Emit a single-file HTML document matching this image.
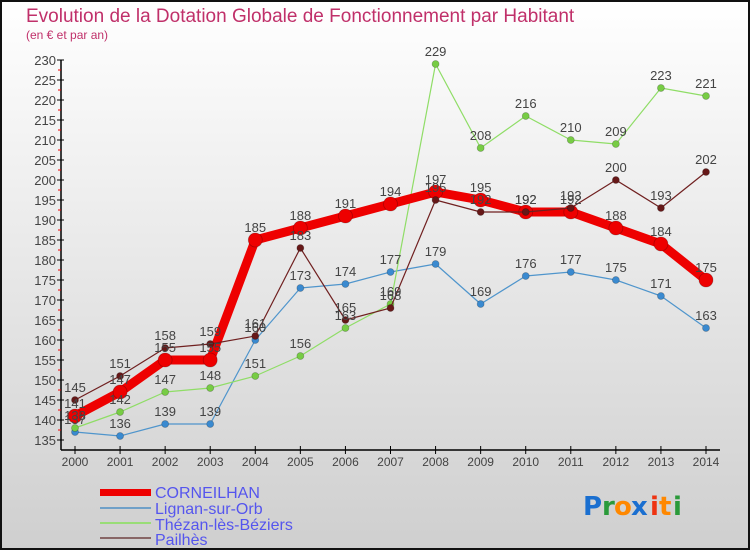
<!DOCTYPE html>
<html><head><meta charset="utf-8"><style>
body{margin:0;width:750px;height:550px;overflow:hidden;font-family:"Liberation Sans",sans-serif}
svg{display:block}
</style></head><body>
<svg id="chart" width="750" height="550" xmlns="http://www.w3.org/2000/svg">
<defs><linearGradient id="bg" x1="0" y1="0" x2="0" y2="1"><stop offset="0" stop-color="#ffffff"/><stop offset="1" stop-color="#cfcfcf"/></linearGradient></defs>
<rect x="1" y="1" width="748" height="548" fill="url(#bg)" stroke="#111" stroke-width="2"/>
<text x="26" y="22" font-size="19" fill="#c0306a">Evolution de la Dotation Globale de Fonctionnement par Habitant</text>
<text x="26" y="39" font-size="12" fill="#c0306a">(en € et par an)</text>
<g id="axes"></g><g id="series"></g><g id="labels"></g>
<g>
<rect x="100" y="489" width="51" height="7" fill="#ee0000"/>
<text x="155" y="498" font-size="16" fill="#5555ee">CORNEILHAN</text>
<rect x="100" y="507" width="51" height="2" fill="#6fa0c8"/>
<text x="155" y="514" font-size="16" fill="#5555ee">Lignan-sur-Orb</text>
<rect x="100" y="522" width="51" height="2" fill="#99dd77"/>
<text x="155" y="530" font-size="16" fill="#5555ee">Thézan-lès-Béziers</text>
<rect x="100" y="537" width="51" height="2" fill="#886666"/>
<text x="155" y="545" font-size="16" fill="#5555ee">Pailhès</text>
</g>
<g font-size="26" font-family="'DejaVu Sans',sans-serif" font-weight="bold">
<text x="583" y="515" fill="#1a6fd0">P</text><text x="602" y="515" fill="#2a9a3a">r</text><text x="614" y="515" fill="#ff8800">o</text><text x="631" y="515" fill="#1a6fd0">x</text><text x="650" y="515" fill="#ee3311">i</text><text x="659" y="515" fill="#ff8800">t</text><text x="673" y="515" fill="#2a9a3a">i</text>
</g>
</svg>
<script>
const years=[2000,2001,2002,2003,2004,2005,2006,2007,2008,2009,2010,2011,2012,2013,2014];
const corneilhan=[141,147,155,155,185,188,191,194,197,195,192,192,188,184,175];
const lignan=[137,136,139,139,160,173,174,177,179,169,176,177,175,171,163];
const thezan=[138,142,147,148,151,156,163,169,229,208,216,210,209,223,221];
const pailhes=[145,151,158,159,161,183,165,168,195,192,192,193,200,193,202];
const yTicks=[135,140,145,150,155,160,165,170,175,180,185,190,195,200,205,210,215,220,225,230];
const NS="http://www.w3.org/2000/svg";
const xS=i=>75+i*(706-75)/(years.length-1);
const yS=v=>60+(230-v)*4;
function mk(tag,at,parent){const e=document.createElementNS(NS,tag);for(const k in at)e.setAttribute(k,at[k]);parent.appendChild(e);return e;}
const axes=document.getElementById('axes'),ser=document.getElementById('series'),lab=document.getElementById('labels');
let a=mk('line',{x1:61,y1:60,x2:61,y2:450,stroke:'#000','stroke-width':1.5},axes);


let b=mk('line',{x1:61,y1:450,x2:720,y2:450,stroke:'#000','stroke-width':1.5},axes);


yTicks.forEach(v=>{
  mk('line',{x1:57,y1:yS(v),x2:64,y2:yS(v),stroke:'#000'},axes);
  if(v<230)mk('line',{x1:58,y1:yS(v+2.5),x2:61,y2:yS(v+2.5),stroke:'#e00'},axes);
  const t=mk('text',{x:56,y:yS(v)+5,'font-size':13,fill:'#444','text-anchor':'end'},axes);
  t.textContent=v;
  
  
});
years.forEach((y,i)=>{
  mk('line',{x1:xS(i),y1:446,x2:xS(i),y2:454,stroke:'#000'},axes);
  const t=mk('text',{x:xS(i),y:466,'font-size':12,fill:'#444','text-anchor':'middle'},axes);
  t.textContent=y;
  
  
});
function series(vals,color,dot,w,r,name){
  const p=mk('polyline',{points:vals.map((v,i)=>xS(i)+','+yS(v)).join(' '),fill:'none',stroke:color,'stroke-width':w,'stroke-linejoin':'round'},ser);
  
  
  vals.forEach((v,i)=>{
    const c=mk('circle',{cx:xS(i),cy:yS(v),r:r,fill:dot,stroke:'rgba(0,0,0,0.25)','stroke-width':0.8},ser);
    
    
    const t=mk('text',{x:xS(i),y:yS(v)-8,'font-size':13,fill:'#444','text-anchor':'middle'},lab);
    t.textContent=v;
    
    
  });
}
series(lignan,'#4f95cc','#3a8ad0',1.2,3.5,'lignan');
series(thezan,'#8fdd66','#77cc44',1.2,3.5,'thezan');
series(corneilhan,'#ee0000','#ee0000',9,7,'corneilhan');
series(pailhes,'#702020','#661818',1.2,3.5,'pailhes');
</script>
</body></html>
